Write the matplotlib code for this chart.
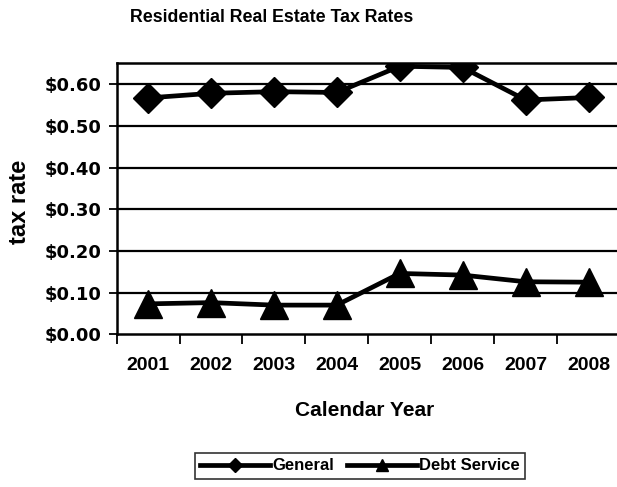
import matplotlib
matplotlib.use("Agg")
import matplotlib.pyplot as plt
import numpy as np

years = ["2001", "2002", "2003", "2004", "2005", "2006", "2007", "2008"]
general = [0.567, 0.578, 0.582, 0.580, 0.643, 0.640, 0.562, 0.568]
debt_service = [0.073, 0.076, 0.070, 0.070, 0.146, 0.142, 0.126, 0.125]
y_ticks = [0.0, 0.1, 0.2, 0.3, 0.4, 0.5, 0.6]
y_tick_labels = ["$0.00", "$0.10", "$0.20", "$0.30", "$0.40", "$0.50", "$0.60"]

W, H = 617, 487
fig = plt.figure(figsize=(W / 100, H / 100), dpi=100)
ax = fig.add_axes([116.6 / W, 1 - 334.3 / H, (620 - 116.6) / W, (334.3 - 63.3) / H])

x = np.arange(len(years))
for v in y_ticks[1:]:
    ax.axhline(v, color="black", lw=1.6, zorder=1)

ax.plot(x, general, color="black", lw=3.4, marker="D", markersize=15,
        label="General", zorder=3)
ax.plot(x, debt_service, color="black", lw=3.4, marker="^", markersize=20,
        label="Debt Service", zorder=3)

ax.set_xlim(-0.5, len(years) - 0.5)
ax.set_ylim(0, 0.65)

ax.spines["right"].set_visible(False)
for s in ["left", "bottom", "top"]:
    ax.spines[s].set_linewidth(1.8)
    ax.spines[s].set_color("black")

ax.set_yticks(y_ticks)
ax.set_yticklabels(y_tick_labels, fontsize=13, fontweight="bold",
                   family="DejaVu Sans")
ax.tick_params(axis="y", length=6, width=1.3, pad=5, direction="out")

ax.set_xticks(x)
ax.set_xticklabels(years, fontsize=14, fontweight="bold", family="Liberation Sans")
ax.tick_params(axis="x", which="major", length=0, pad=16)
ax.set_xticks(np.arange(-0.5, len(years), 1), minor=True)
ax.tick_params(axis="x", which="minor", length=7, width=1.3, direction="out")

fig.text(272 / W, 1 - 18 / H, "Residential Real Estate Tax Rates",
         ha="center", va="center", fontsize=12.8, fontweight="bold",
         family="Liberation Sans")
fig.text(20 / W, 1 - 202 / H, "tax rate", rotation=90, ha="center", va="center",
         fontsize=17, fontweight="bold", family="Liberation Sans")
fig.text(365 / W, 1 - 410 / H, "Calendar Year", ha="center", va="center",
         fontsize=15, fontweight="bold", family="Liberation Sans")

leg = fig.legend(loc="center", bbox_to_anchor=(360 / W, 1 - 466 / H), ncol=2,
                 frameon=True, fancybox=False, edgecolor="black",
                 prop={"family": "Liberation Sans", "weight": "bold", "size": 12},
                 markerscale=0.45, handlelength=4.2, handletextpad=0.1,
                 columnspacing=0.8, borderpad=0.35)
leg.get_frame().set_linewidth(1.2)

fig.savefig("out.png", dpi=100)
